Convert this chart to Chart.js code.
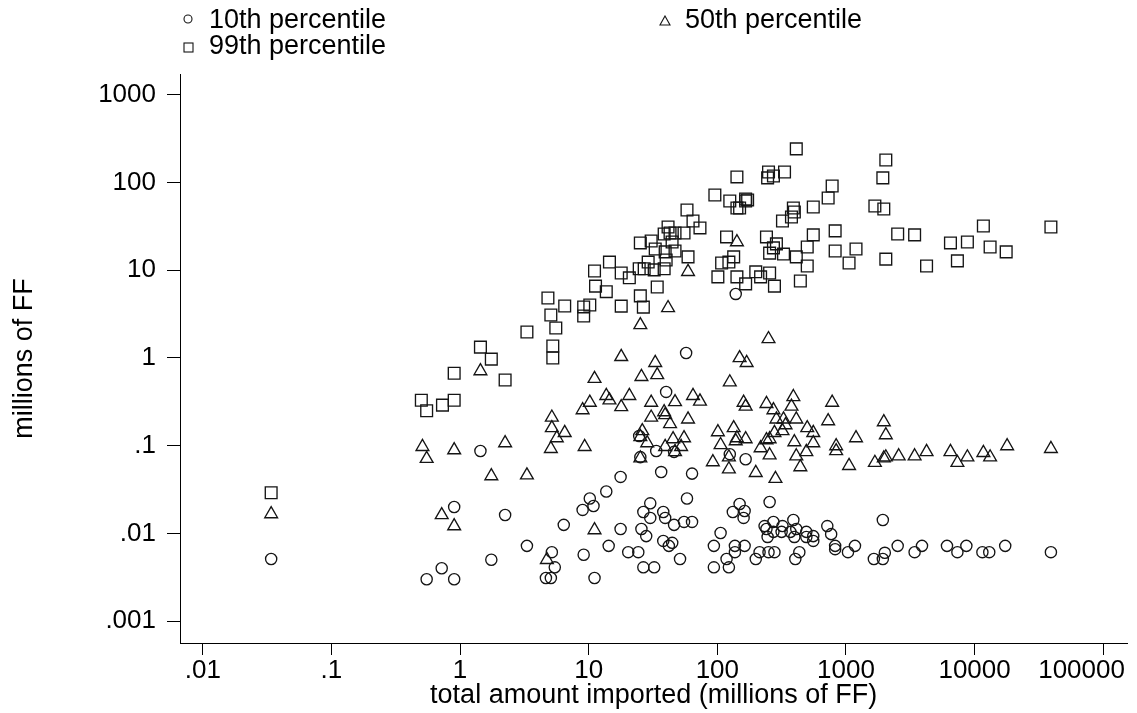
<!DOCTYPE html>
<html>
<head>
<meta charset="utf-8">
<title>Percentiles vs total amount imported</title>
<script src="https://cdn.jsdelivr.net/npm/chart.js@4.4.1/dist/chart.umd.min.js"></script>
<style>
  body { margin: 0; background: #fff; }
  #wrap { position: relative; width: 1137px; height: 713px; }
  #chart { position: absolute; left: 0; top: 0; }
  .leg { position: absolute; font: 27px "Liberation Sans", Arial, Helvetica, sans-serif;
         line-height: 27px; color: #000; white-space: nowrap; }
  .leg svg { position: absolute; }
  #leg0 { left: 182px; top: 6px; }
  #leg1 { left: 658px; top: 6px; }
  #leg2 { left: 182px; top: 32px; }
  .leg span { position: absolute; left: 27px; top: 0; }
</style>
</head>
<body>
<div id="wrap">
  <canvas id="chart" width="1137" height="713"></canvas>
  <div class="leg" id="leg0"></div>
  <div class="leg" id="leg1"></div>
  <div class="leg" id="leg2"></div>
</div>
<script>
// ---------------------------
// Data
// ---------------------------
const seriesNames = ["10th percentile", "50th percentile", "99th percentile"];

// 10th percentile (circles)
const p10X = [0.034, 0.55, 0.72, 0.90, 0.90, 1.75, 2.24, 1.44, 3.31, 5.17, 5.45, 4.65, 5.08, 6.40,
  9.14, 11.1, 8.97, 10.2, 10.9, 13.7, 17.7, 14.3, 17.7, 20.3, 24.3, 25.7, 28.0, 26.6, 32.3, 26.6,
  30.1, 30.1, 38.0, 39.3, 46.1, 55.1, 63.6, 38.0, 44.6, 42.0, 51.3, 58.1, 94.0, 94.0, 106, 149,
  132, 163, 160, 255, 137, 163, 137, 118, 123, 199, 213, 250, 278, 233, 241, 273, 246, 273, 321,
  316, 390, 370, 411, 397, 492, 492, 557, 557, 716, 767, 824, 824, 434, 404, 1037, 1175, 1648,
  1935, 2005, 1935, 2524, 3418, 3900, 6100, 7350, 8630, 11500, 13000, 17300, 39200, 139, 57.2,
  40.0, 24.7, 33.5, 46.1, 25.2, 36.6, 63.6, 125, 166];
const p10Y = [0.0051, 0.0030, 0.0040, 0.0030, 0.020, 0.0050, 0.0162, 0.087, 0.0072, 0.0061, 0.0041,
  0.0031, 0.0031, 0.0125, 0.0057, 0.0031, 0.0185, 0.025, 0.0205, 0.030, 0.044, 0.0072, 0.0112,
  0.0061, 0.0061, 0.0112, 0.0093, 0.0041, 0.0041, 0.0175, 0.022, 0.015, 0.0175, 0.015, 0.0125,
  0.0135, 0.0135, 0.0082, 0.0078, 0.0072, 0.0051, 0.025, 0.0072, 0.0041, 0.0101, 0.0216, 0.0175,
  0.018, 0.015, 0.0228, 0.0072, 0.0072, 0.0061, 0.0051, 0.0041, 0.0051, 0.0061, 0.0061, 0.0061,
  0.0121, 0.0112, 0.0135, 0.0091, 0.0104, 0.0121, 0.0104, 0.0142, 0.0104, 0.0112, 0.0091, 0.0104,
  0.0091, 0.0093, 0.0082, 0.0121, 0.0098, 0.0072, 0.0066, 0.0061, 0.0051, 0.0061, 0.0072, 0.0051,
  0.0051, 0.0060, 0.0142, 0.0072, 0.0061, 0.0072, 0.0072, 0.0061, 0.0072, 0.0061, 0.0061, 0.0072,
  0.0061, 5.37, 1.14, 0.41, 0.129, 0.087, 0.085, 0.074, 0.050, 0.048, 0.080, 0.070];

// 50th percentile (triangles)
const p50X = [0.034, 0.51, 0.55, 0.90, 0.72, 0.90, 1.44, 1.75, 2.24, 3.31, 5.17, 5.17, 5.65, 6.51,
  5.08, 4.73, 9.3, 11.1, 10.2, 8.97, 13.7, 14.5, 11.1, 17.9, 20.7, 17.9, 25.7, 32.9, 34.1, 30.6,
  30.6, 38.6, 39.3, 42.9, 46.9, 64.7, 73.3, 59.2, 26.1, 28.5, 25.2, 39.3, 45.3, 55.1, 52.3, 46.9,
  25.2, 92.3, 25.2, 41.4, 59.2, 142, 250, 149, 169, 125, 160, 166, 241, 273, 390, 377, 781, 288,
  327, 411, 339, 278, 321, 500, 557, 727, 101, 134, 142, 166, 139, 106, 241, 255, 217, 397, 557,
  492, 411, 255, 123, 123, 199, 283, 442, 839, 839, 1197, 1057, 1969, 2041, 1678, 1969, 2041,
  2570, 3418, 4233, 6492, 7350, 8790, 11700, 13200, 17900, 39200];
const p50Y = [0.0166, 0.097, 0.071, 0.089, 0.0162, 0.0121, 0.71, 0.045, 0.107, 0.046, 0.21, 0.159,
  0.122, 0.140, 0.092, 0.0050, 0.097, 0.58, 0.31, 0.255, 0.37, 0.33, 0.0109, 1.03, 0.37, 0.276,
  0.61, 0.88, 0.64, 0.31, 0.21, 0.242, 0.224, 0.177, 0.315, 0.37, 0.32, 0.20, 0.147, 0.107, 0.126,
  0.097, 0.119, 0.122, 0.097, 0.085, 0.072, 0.065, 2.38, 3.72, 9.6, 21.0, 1.65, 1.0, 0.88, 0.53,
  0.31, 0.28, 0.30, 0.255, 0.36, 0.28, 0.31, 0.20, 0.20, 0.20, 0.172, 0.140, 0.147, 0.159, 0.140,
  0.191, 0.143, 0.159, 0.122, 0.119, 0.113, 0.102, 0.116, 0.119, 0.094, 0.110, 0.107, 0.085,
  0.076, 0.078, 0.074, 0.054, 0.049, 0.042, 0.057, 0.099, 0.087, 0.122, 0.059, 0.186, 0.132,
  0.064, 0.072, 0.074, 0.076, 0.076, 0.085, 0.085, 0.064, 0.074, 0.083, 0.074, 0.099, 0.092];

// 99th percentile (squares)
const p99X = [0.034, 0.50, 0.55, 0.73, 0.90, 0.90, 1.44, 1.75, 2.24, 3.31, 4.82, 5.08, 5.55, 5.26,
  5.26, 6.51, 9.14, 9.14, 10.2, 11.1, 11.3, 13.7, 14.5, 17.9, 20.7, 17.9, 25.2, 26.6, 25.2, 27.0,
  24.7, 29.0, 30.6, 32.9, 32.3, 34.1, 38.6, 38.6, 39.3, 40.0, 41.4, 42.9, 44.5, 46.9, 46.9, 55.1,
  58.1, 59.2, 64.7, 73.3, 95.7, 101, 108, 118, 123, 125, 134, 142, 142, 149, 166, 166, 172, 166,
  142, 199, 217, 241, 246, 250, 255, 255, 273, 273, 278, 288, 321, 327, 333, 377, 390, 397, 411,
  411, 442, 500, 500, 557, 557, 727, 781, 824, 824, 1057, 1197, 1678, 1935, 1969, 2041, 2041,
  2524, 3418, 4233, 6492, 7350, 8790, 11700, 13200, 17600, 39200];
const p99Y = [0.029, 0.33, 0.25, 0.29, 0.33, 0.67, 1.33, 0.97, 0.56, 1.98, 4.83, 3.09, 2.20, 1.37,
  1.0, 3.92, 3.01, 3.82, 4.02, 9.8, 6.6, 5.7, 12.4, 9.3, 8.2, 3.9, 5.1, 3.8, 20.5, 10.4, 10.4,
  12.4, 21.6, 17.5, 10.1, 6.45, 10.4, 25.9, 16.2, 13.1, 31.2, 26.6, 21.0, 26.6, 16.6, 26.6, 48.7,
  14.2, 36.5, 30.4, 72.2, 8.4, 12.1, 24.0, 12.4, 61.7, 14.2, 116, 51.3, 51.3, 65.0, 61.7, 63.4,
  7.0, 8.4, 9.6, 8.4, 24.0, 113, 132, 15.7, 9.3, 119, 18.0, 6.6, 20.0, 36.5, 15.3, 132, 40.5,
  51.3, 46.2, 242, 14.2, 7.55, 18.4, 11.2, 52.7, 25.3, 66.7, 91.5, 28.1, 16.6, 12.1, 17.5, 54.1,
  113, 50.0, 181, 13.4, 25.9, 25.3, 11.2, 20.5, 12.8, 21.0, 32.0, 18.4, 16.2, 31.2];

// axes
const xTicks = [0.01, 0.1, 1, 10, 100, 1000, 10000, 100000];
const yTicks = [0.001, 0.01, 0.1, 1, 10, 100, 1000];
const X_MIN = 0.00665, X_MAX = 154000;
const Y_MIN = 0.000562, Y_MAX = 1730;

// ---------------------------
// Helpers
// ---------------------------
const FONT = '"Liberation Sans", Arial, Helvetica, sans-serif';
const INK = "#151515";

function pts(xs, ys){
  return xs.map((x, i) => ({ x: x, y: ys[i] }));
}

// Stata style: ".01" instead of "0.01"
function fmt(v){
  return String(v).replace(/^0\./, ".");
}

Chart.defaults.font.family = FONT;
Chart.defaults.color = "#000";

// ---------------------------
// Chart
// ---------------------------
const chart = new Chart(document.getElementById("chart"), {
  type: "scatter",
  data: {
    datasets: [
      { label: seriesNames[0], data: pts(p10X, p10Y), pointStyle: "circle", pointRadius: 5.6 },
      { label: seriesNames[1], data: pts(p50X, p50Y), pointStyle: "triangle", pointRadius: 7.4 },
      { label: seriesNames[2], data: pts(p99X, p99Y), pointStyle: "rect", pointRadius: 8.3 }
    ].map(d => Object.assign(d, {
      borderColor: INK, backgroundColor: "rgba(0,0,0,0)", borderWidth: 1.35, pointHoverRadius: d.pointRadius
    }))
  },
  options: {
    responsive: false,
    animation: false,
    layout: { padding: { top: 74, right: 4, bottom: 0, left: 0 } },
    plugins: { legend: { display: false }, tooltip: { enabled: false } },
    scales: {
      x: {
        type: "logarithmic",
        min: X_MIN, max: X_MAX,
        afterBuildTicks: s => { s.ticks = xTicks.map(v => ({ value: v })); },
        afterFit: s => { s.height = 70; s.paddingLeft = 0; s.paddingRight = 0; },
        ticks: {
          autoSkip: false, maxRotation: 0, padding: 0, color: "#000",
          font: { size: 26 },
          // last label is pushed left so it stays inside the picture
          callback: (v, i) => i === xTicks.length - 1 ? fmt(v) + "\u00a0\u00a0\u00a0\u00a0\u00a0\u00a0" : fmt(v)
        },
        grid: { drawOnChartArea: false, drawTicks: true, tickLength: 12, tickColor: "#000", lineWidth: 1 },
        border: { display: true, color: "#000", width: 1 },
        title: {
          display: true, text: "total amount imported (millions of FF)", color: "#000",
          font: { size: 27 }, padding: { top: 0, bottom: 1 }
        }
      },
      y: {
        type: "logarithmic",
        min: Y_MIN, max: Y_MAX,
        afterBuildTicks: s => { s.ticks = yTicks.map(v => ({ value: v })); },
        afterFit: s => { s.width = 180; s.paddingTop = 0; s.paddingBottom = 0; },
        ticks: { autoSkip: false, padding: 11, color: "#000", font: { size: 26 }, callback: v => fmt(v) },
        grid: { drawOnChartArea: false, drawTicks: true, tickLength: 13, tickColor: "#000", lineWidth: 1 },
        border: { display: true, color: "#000", width: 1 },
        title: {
          display: true, text: "millions of FF", color: "#000",
          font: { size: 27 }, padding: { top: 8, bottom: 0 }
        }
      }
    }
  }
});

// ---------------------------
// Legend (html, two columns like the original)
// ---------------------------
const legendMarks = [
  '<svg width="14" height="14" style="left:0;top:7px"><circle cx="6" cy="6" r="4" fill="none" stroke="' + INK + '" stroke-width="1.1"/></svg>',
  '<svg width="14" height="14" style="left:1px;top:9px"><path d="M6 1 L11 10 L1 10 Z" fill="none" stroke="' + INK + '" stroke-width="1.1"/></svg>',
  '<svg width="14" height="14" style="left:0;top:9px"><rect x="2" y="2" width="9" height="9" fill="none" stroke="' + INK + '" stroke-width="1.1"/></svg>'
];
seriesNames.forEach((name, i) => {
  document.getElementById("leg" + i).innerHTML = legendMarks[i] + "<span>" + name + "</span>";
});
</script>
</body>
</html>
